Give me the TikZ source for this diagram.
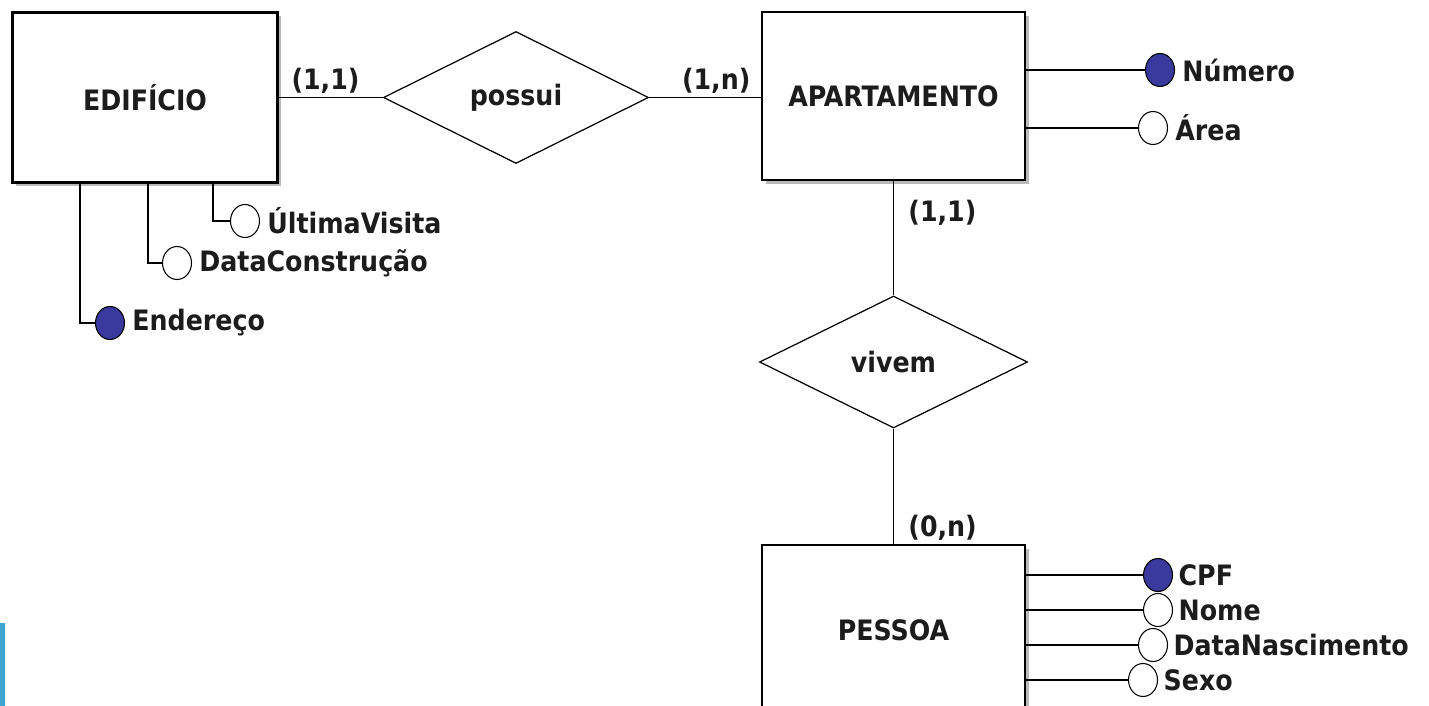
\documentclass[tikz,border=0pt]{standalone}
\usepackage{fontspec}
\setmainfont{DejaVu Sans Condensed}
\usetikzlibrary{positioning}
\usetikzlibrary{shadows}
\usetikzlibrary{shapes.geometric}
\definecolor{erink}{HTML}{1C1C1C}
\definecolor{erkey}{HTML}{3A3A9E}
\definecolor{ershadow}{HTML}{8C8C8C}
\definecolor{erbar}{HTML}{3FA3CF}
\newcommand{\erfont}{\fontsize{16}{19}\selectfont\bfseries}
\tikzset{
  erentity/.style={
    draw=black, fill=white, line width=1.3pt, inner sep=0pt,
    minimum width=5.3cm, minimum height=3.4cm, font=\erfont, text=erink,
    drop shadow={shadow xshift=2pt, shadow yshift=-2pt,
                 fill=ershadow, opacity=0.6}},
  errel/.style={
    diamond, aspect=2, draw=black, fill=white, line width=0.7pt,
    inner sep=0pt, minimum width=5.3cm, minimum height=2.64cm,
    font=\erfont, text=erink},
  erattr/.style={
    ellipse, draw=black, fill=white, line width=0.6pt, inner sep=0pt,
    minimum width=0.58cm, minimum height=0.66cm},
  erkeyattr/.style={erattr, fill=erkey},
  erlabel/.style={font=\erfont, text=erink, inner sep=0pt},
  erline/.style={draw=black, line width=1pt},
}

\begin{document}
\begin{tikzpicture}[x=1cm, y=1cm]

\path[use as bounding box, fill=white] (0, 0) rectangle (28.58, -14.12);

% Entities and relationships.
\node[erentity] (edificio) at (2.9, -1.95) {EDIFÍCIO};
\node[errel] (possui) at (10.32, -1.95) {possui};
\node[erentity, minimum width=5.26cm, minimum height=3.36cm]
  (apto) at (17.87, -1.92) {APARTAMENTO};
\node[errel, minimum width=5.36cm] (vivem) at (17.87, -7.24) {vivem};
\node[erentity, minimum width=5.26cm] (pessoa) at (17.87, -12.6) {PESSOA};

\draw[erline] (edificio.east |- possui) -- (possui)
  node[erlabel, pos=0.45, above=2pt] {(1,1)};
\draw[erline] (possui) -- (apto.west |- possui)
  node[erlabel, pos=0.6, above=2pt] {(1,n)};
\draw[erline] (apto.south -| vivem) -- (vivem)
  node[erlabel, pos=0.28, right=8pt] {(1,1)};
\draw[erline] (vivem) -- (pessoa.north -| vivem)
  node[erlabel, pos=0.86, right=8pt] {(0,n)};

% Attributes of EDIFICIO.
\node[erattr] (ultima) at (4.9, -4.42) {};
\node[erlabel, right=4pt of ultima] (ultimatxt) {ÚltimaVisita};
\draw[erline] ([xshift=1.36cm]edificio.south) |- (ultima);

\node[erattr] (datacons) at (3.54, -5.26) {};
\node[erlabel, right=4pt of datacons] (datacontxt) {DataConstrução};
\draw[erline] ([xshift=0.06cm]edificio.south) |- (datacons);

\node[erkeyattr] (endereco) at (2.2, -6.46) {};
\node[erlabel, right=4pt of endereco] (enderecotxt) {Endereço};
\draw[erline] ([xshift=-1.3cm]edificio.south) |- (endereco);

% Attributes of APARTAMENTO.
\node[erkeyattr] (numero) at (23.2, -1.4) {};
\node[erlabel, right=4pt of numero] (numerotxt) {Número};
\draw[erline] (apto.east |- numero) -- (numero);

\node[erattr] (area) at (23.06, -2.56) {};
\node[erlabel, right=4pt of area] (areatxt) {Área};
\draw[erline] (apto.east |- area) -- (area);

% Attributes of PESSOA.
\foreach \name/\kind/\xpos/\ypos/\text in {%
    cpf/erkeyattr/23.16/-11.5/{CPF},
    nome/erattr/23.16/-12.2/{Nome},
    nasc/erattr/23.06/-12.9/{DataNascimento},
    sexo/erattr/22.86/-13.6/{Sexo}} {
  \node[\kind] (\name) at (\xpos, \ypos) {};
  \node[erlabel, right=3pt of \name] (\name txt) {\text};
  \draw[erline] (pessoa.east |- \name) -- (\name);
}

% Edge of the slide.
\fill[erbar] (0, -12.45) rectangle (0.1, -14.12);

\end{tikzpicture}
\end{document}
